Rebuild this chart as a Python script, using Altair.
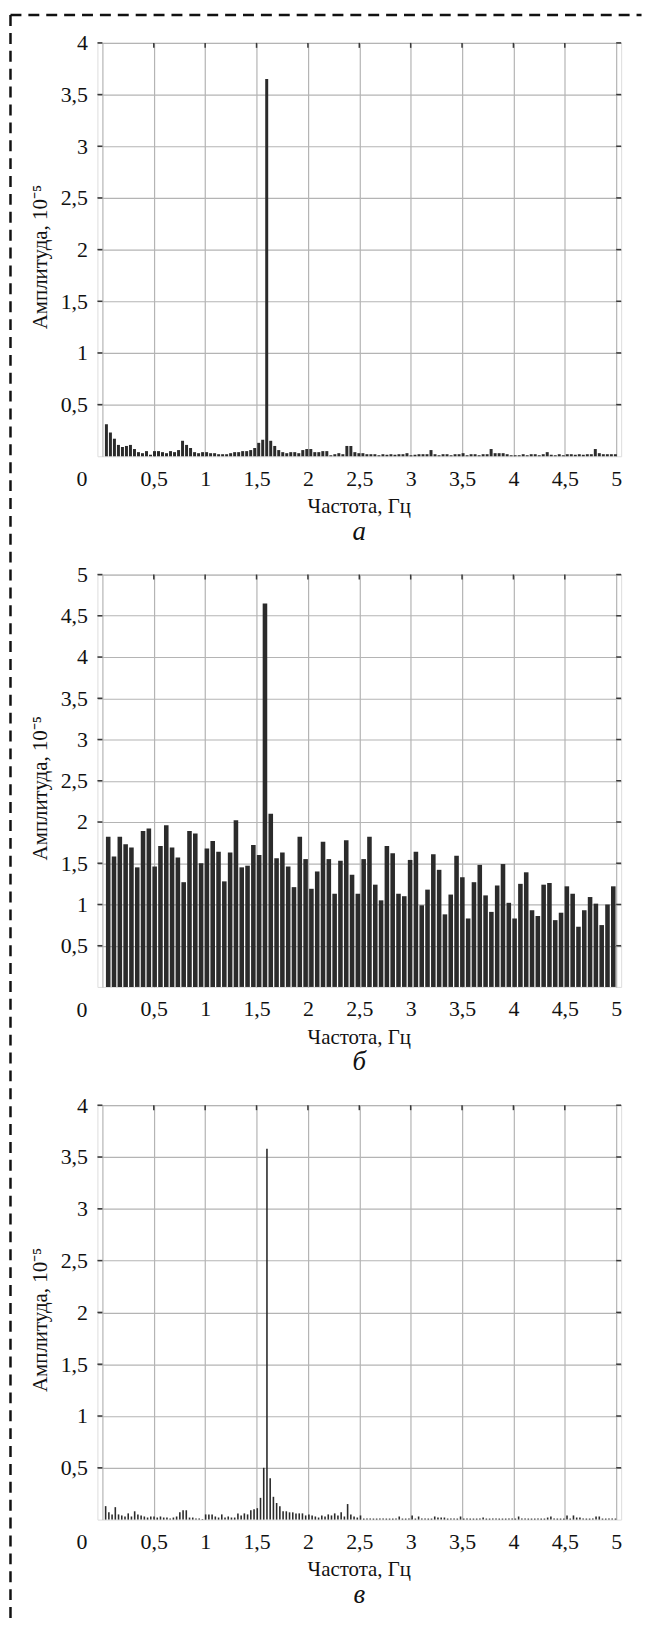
import altair as alt
import pandas as pd

# bin spacing (Hz) of each spectrum
STEP_A = 0.039
STEP_B = 0.0565
STEP_C = 0.0314

amp_a = [0.31, 0.23, 0.17, 0.11, 0.09, 0.10, 0.11, 0.07, 0.04, 0.03,
         0.05, 0.015, 0.05, 0.05, 0.04, 0.03, 0.05, 0.04, 0.06, 0.15,
         0.11, 0.08, 0.04, 0.03, 0.04, 0.04, 0.03, 0.03, 0.02, 0.02,
         0.02, 0.03, 0.04, 0.04, 0.05, 0.05, 0.06, 0.08, 0.13, 0.16,
         3.65, 0.15, 0.10, 0.06, 0.04, 0.03, 0.04, 0.04, 0.03, 0.06,
         0.07, 0.07, 0.04, 0.04, 0.05, 0.05, 0.01, 0.02, 0.03, 0.02,
         0.10, 0.10, 0.04, 0.03, 0.03, 0.02, 0.02, 0.02, 0.01, 0.02,
         0.015, 0.02, 0.015, 0.02, 0.02, 0.03, 0.01, 0.015, 0.02, 0.02,
         0.02, 0.06, 0.02, 0.01, 0.02, 0.02, 0.01, 0.02, 0.02, 0.03,
         0.01, 0.02, 0.02, 0.01, 0.02, 0.02, 0.07, 0.03, 0.03, 0.03,
         0.02, 0.01, 0.01, 0.01, 0.02, 0.01, 0.02, 0.02, 0.01, 0.02,
         0.04, 0.015, 0.01, 0.02, 0.01, 0.02, 0.02, 0.015, 0.02, 0.015,
         0.02, 0.02, 0.07, 0.03, 0.02, 0.02, 0.02, 0.02]

amp_b = [1.82, 1.58, 1.82, 1.73, 1.69, 1.45, 1.89, 1.92, 1.46, 1.71,
         1.96, 1.69, 1.57, 1.27, 1.89, 1.86, 1.50, 1.68, 1.77, 1.64,
         1.28, 1.63, 2.02, 1.45, 1.47, 1.72, 1.60, 4.65, 2.10, 1.56,
         1.63, 1.46, 1.21, 1.82, 1.55, 1.19, 1.40, 1.76, 1.55, 1.13,
         1.53, 1.78, 1.36, 1.13, 1.55, 1.82, 1.24, 1.05, 1.71, 1.62,
         1.13, 1.10, 1.54, 1.64, 0.99, 1.18, 1.61, 1.42, 0.88, 1.12,
         1.59, 1.33, 0.83, 1.27, 1.48, 1.11, 0.91, 1.23, 1.49, 1.02,
         0.83, 1.25, 1.39, 0.93, 0.86, 1.24, 1.26, 0.81, 0.90, 1.22,
         1.13, 0.73, 0.93, 1.09, 1.01, 0.75, 1.00, 1.22]

amp_c = [0.13, 0.07, 0.05, 0.12, 0.05, 0.04, 0.03, 0.06, 0.03, 0.08,
         0.05, 0.04, 0.03, 0.02, 0.03, 0.03, 0.02, 0.03, 0.02, 0.02,
         0.01, 0.02, 0.03, 0.07, 0.09, 0.09, 0.02, 0.02, 0.01, 0.01,
         0.005, 0.05, 0.05, 0.05, 0.03, 0.02, 0.05, 0.02, 0.03, 0.02,
         0.02, 0.06, 0.04, 0.06, 0.05, 0.09, 0.10, 0.11, 0.21, 0.50,
         3.58, 0.40, 0.22, 0.16, 0.13, 0.08, 0.08, 0.07, 0.07, 0.06,
         0.06, 0.06, 0.04, 0.05, 0.04, 0.03, 0.02, 0.04, 0.03, 0.05,
         0.04, 0.06, 0.04, 0.07, 0.03, 0.15, 0.05, 0.03, 0.02, 0.04,
         0.01, 0.01, 0.01, 0.01, 0.01, 0.01, 0.01, 0.01, 0.01, 0.01,
         0.01, 0.03, 0.01, 0.01, 0.01, 0.04, 0.01, 0.03, 0.01, 0.01,
         0.01, 0.01, 0.03, 0.02, 0.02, 0.02, 0.01, 0.01, 0.01, 0.01,
         0.03, 0.01, 0.01, 0.01, 0.01, 0.01, 0.01, 0.02, 0.01, 0.01,
         0.01, 0.01, 0.01, 0.01, 0.01, 0.01, 0.01, 0.01, 0.03, 0.01,
         0.01, 0.01, 0.01, 0.01, 0.01, 0.01, 0.01, 0.02, 0.03, 0.01,
         0.01, 0.01, 0.01, 0.04, 0.01, 0.04, 0.02, 0.02, 0.01, 0.01,
         0.01, 0.01, 0.03, 0.03, 0.01, 0.01, 0.01, 0.01, 0.01]

x_ticks = [0, 0.5, 1, 1.5, 2, 2.5, 3, 3.5, 4, 4.5, 5]
y_ticks_a = [0.5, 1, 1.5, 2, 2.5, 3, 3.5, 4]
y_ticks_b = [0.5, 1, 1.5, 2, 2.5, 3, 3.5, 4, 4.5, 5]
y_ticks_c = [0.5, 1, 1.5, 2, 2.5, 3, 3.5, 4]
origin_label = "0"

x_title = "Частота, Гц"
y_title = "Амплитуда, 10⁻⁵"
captions = ["а", "б", "в"]

W = 527
FONT = "Liberation Serif, Times New Roman, serif"
FS = 22      # tick labels
FT = 21      # axis titles
TXT = "#111"
GRID = "#b4b4b4"
DARK = "#3a3a3a"


def panel(amps, step, ymax, yticks, h, barw, caption, border=False):
    df = pd.DataFrame({"f": [(i + 1) * step for i in range(len(amps))], "a": amps})
    xs = alt.Scale(domain=[0, 5], nice=False, zero=False)
    ys = alt.Scale(domain=[0, ymax], nice=False)
    xaxis = alt.Axis(values=x_ticks, grid=True, gridColor=GRID, gridWidth=1.2,
                     domain=False, ticks=False, labelFlush=False, labelOverlap=False,
                     labelExpr="datum.value == 0 ? '' : replace(toString(datum.value), '.', ',')",
                     labelPadding=12, labelFont=FONT, labelFontSize=FS, labelColor=TXT,
                     title=None)
    yaxis = alt.Axis(values=yticks, grid=True, gridColor=GRID, gridWidth=1.2,
                     domain=False, ticks=False, labelFlush=False, labelOverlap=False,
                     labelExpr="replace(toString(datum.value), '.', ',')",
                     labelPadding=10, labelFont=FONT, labelFontSize=FS, labelColor=TXT,
                     title=y_title, titleFont=FONT, titleFontSize=FT, titleFontWeight="normal",
                     titleColor=TXT, titlePadding=10, titleY=h / 2 + 7)
    bars = alt.Chart(df).mark_bar(color="#2b2b2b", size=barw).encode(
        x=alt.X("f:Q", scale=xs, axis=xaxis),
        y=alt.Y("a:Q", scale=ys, axis=yaxis),
    )
    yt = pd.DataFrame({"v": yticks})
    xt = pd.DataFrame({"v": x_ticks[1:-1]})
    tl = alt.Chart(yt).mark_rule(color=DARK, strokeWidth=1.5).encode(
        y=alt.Y("v:Q", scale=ys, axis=yaxis), x=alt.value(0), x2=alt.value(5))
    tr = alt.Chart(yt).mark_rule(color=DARK, strokeWidth=1.5).encode(
        y=alt.Y("v:Q", scale=ys, axis=yaxis), x=alt.value(W - 5), x2=alt.value(W))
    tt = alt.Chart(xt).mark_rule(color=DARK, strokeWidth=1.5).encode(
        x=alt.X("v:Q", scale=xs, axis=xaxis), y=alt.value(0), y2=alt.value(5))
    zero = alt.Chart(pd.DataFrame({"t": [origin_label]})).mark_text(
        font=FONT, fontSize=FS, color=TXT, baseline="middle", align="center").encode(
        text="t:N", x=alt.value(-15.5), y=alt.value(h + 23))
    xtitle = alt.Chart(pd.DataFrame({"t": [x_title]})).mark_text(
        font=FONT, fontSize=FT, color=TXT, baseline="middle", align="center").encode(
        text="t:N", x=alt.value(W / 2), y=alt.value(h + 51))
    cap = alt.Chart(pd.DataFrame({"t": [caption]})).mark_text(
        font=FONT, fontSize=27, fontStyle="italic", color=TXT,
        baseline="middle", align="center").encode(
        text="t:N", x=alt.value(W / 2), y=alt.value(h + 76))
    layers = [bars, tl, tr, tt, zero, xtitle, cap]
    if border:
        one = pd.DataFrame({"k": [0]})
        bv = alt.Chart(one).mark_rule(color="#111", strokeWidth=2.5, strokeDash=[11, 7]).encode(
            x=alt.value(-87.5), y=alt.value(-28), y2=alt.value(1590))
        bh = alt.Chart(one).mark_rule(color="#111", strokeWidth=2.5, strokeDash=[11, 7]).encode(
            x=alt.value(-87.5), x2=alt.value(547.5), y=alt.value(-28))
        layers += [bv, bh]
    return alt.layer(*layers).properties(width=W, height=h)


pa = panel(amp_a, STEP_A, 4, y_ticks_a, 416, 3, captions[0], border=True)
pb = panel(amp_b, STEP_B, 5, y_ticks_b, 415, 4.6, captions[1])
pc = panel(amp_c, STEP_C, 4, y_ticks_c, 417, 1.6, captions[2])

chart = alt.vconcat(pa, pb, pc, spacing=119, bounds="flush").properties(
    padding={"left": 0, "top": 0, "right": 0, "bottom": 0}
).configure_view(stroke="#4d4d4d", strokeWidth=1.5).configure(background="white")

chart.save("out.html", embed_options={"renderer": "svg", "actions": False})
